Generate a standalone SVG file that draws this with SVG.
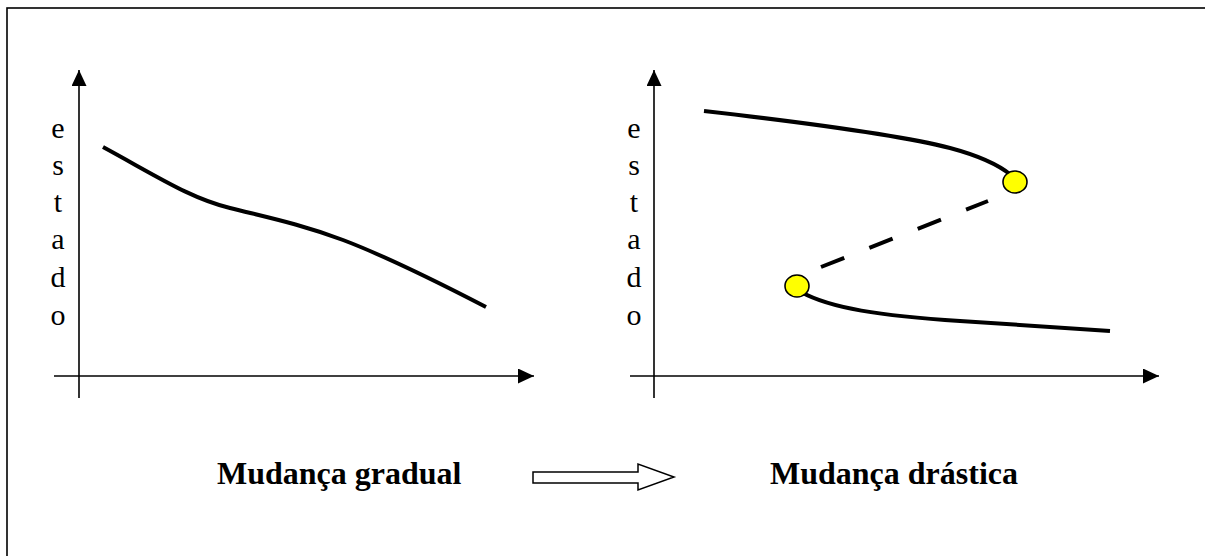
<svg xmlns="http://www.w3.org/2000/svg" width="1205" height="556" viewBox="0 0 1205 556">
<style>
.axis{stroke:#000;stroke-width:1.6;fill:none}
.curve{stroke:#000;stroke-width:4;fill:none}
.lbl{font-family:"Liberation Serif","Times New Roman",serif;font-size:30px;fill:#000;text-anchor:middle}
.title{font-family:"Liberation Serif","Times New Roman",serif;font-size:32px;font-weight:bold;fill:#000}
.pt{fill:#ffff00;stroke:#000;stroke-width:1.6}
</style>
<defs>
<marker id="ah" markerWidth="16" markerHeight="15" refX="16" refY="7.5" orient="auto" markerUnits="userSpaceOnUse">
<path d="M0,0 L16,7.5 L0,15 Z" fill="#000"/>
</marker>
</defs>
<rect x="0" y="0" width="1205" height="556" fill="#fff"/>
<rect x="7" y="8" width="1300" height="700" fill="none" stroke="#000" stroke-width="1.6"/>
<g id="connectors">
<line class="axis" x1="79" y1="398" x2="79" y2="70" marker-end="url(#ah)"/>
<line class="axis" x1="54" y1="376" x2="534" y2="376" marker-end="url(#ah)"/>
<line class="axis" x1="654" y1="398" x2="654" y2="70" marker-end="url(#ah)"/>
<line class="axis" x1="630" y1="376" x2="1159" y2="376" marker-end="url(#ah)"/>
<path id="gradual-curve" class="curve" d="M103,147 C160,178 190,198 230,208 C270,218 300,224 343,240 C380,254 430,278 486,307"/>
<path id="upper-branch" class="curve" d="M704,111 C800,122 900,135 950,148 C980,156 1000,166 1011,175"/>
<path id="lower-branch" class="curve" d="M801,292 C830,308 880,316 960,321 C1020,325 1070,328 1110,331"/>
<line id="unstable-branch" class="curve" x1="821" y1="267" x2="988" y2="201" stroke-dasharray="25,27"/>
<polygon id="block-arrow" points="533,472 638,472 638,464 674,477 638,490 638,483 533,483" fill="#fff" stroke="#000" stroke-width="1.5"/>
</g>
<g id="left-ylabel">
<text class="lbl" x="58" y="138">e</text>
<text class="lbl" x="58" y="175">s</text>
<text class="lbl" x="58" y="212">t</text>
<text class="lbl" x="58" y="249">a</text>
<text class="lbl" x="58" y="287">d</text>
<text class="lbl" x="58" y="325">o</text>
</g>
<g id="right-ylabel">
<text class="lbl" x="634" y="138">e</text>
<text class="lbl" x="634" y="175">s</text>
<text class="lbl" x="634" y="212">t</text>
<text class="lbl" x="634" y="249">a</text>
<text class="lbl" x="634" y="287">d</text>
<text class="lbl" x="634" y="325">o</text>
</g>
<g id="point-upper"><ellipse class="pt" cx="1015" cy="182" rx="12" ry="11"/></g>
<g id="point-lower"><ellipse class="pt" cx="797" cy="286" rx="12" ry="11"/></g>
<g id="title-left"><text class="title" x="217" y="484">Mudança gradual</text></g>
<g id="title-right"><text class="title" x="770" y="484">Mudança drástica</text></g>
</svg>
